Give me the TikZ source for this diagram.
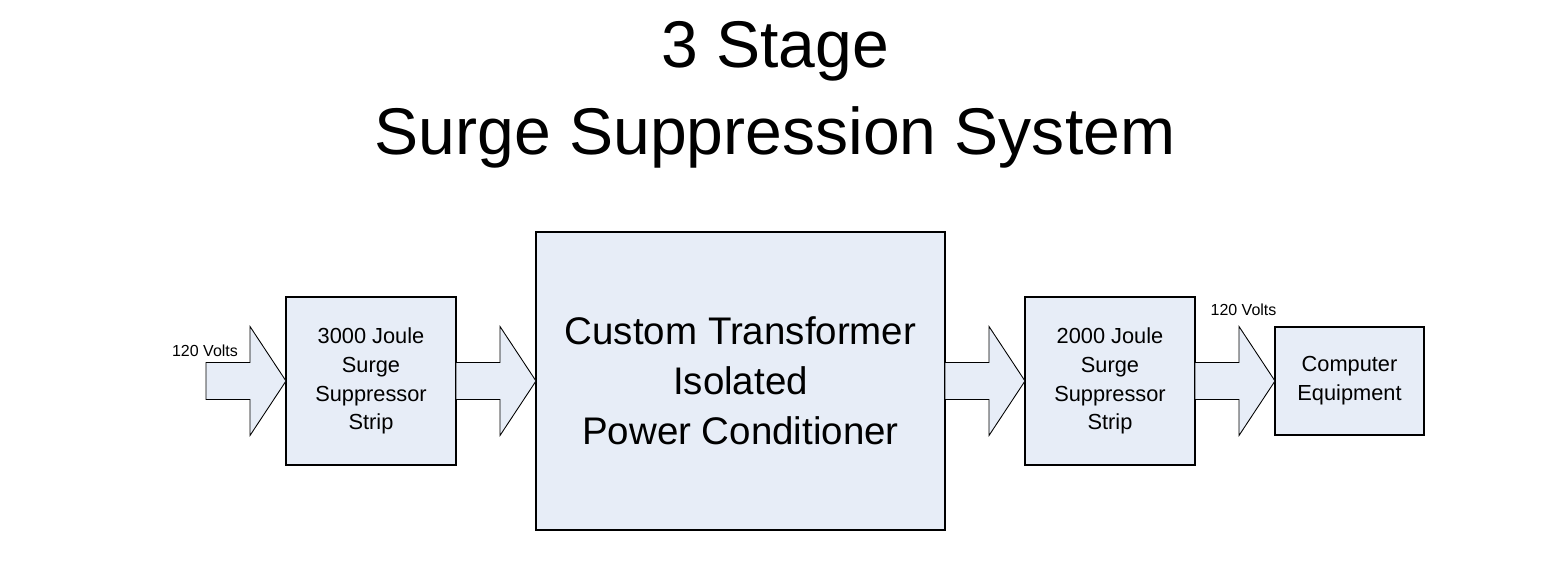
\documentclass[tikz,border=0pt]{standalone}
\usepackage{fontspec}
\setmainfont{Liberation Sans}
\usepackage{tikz}
\usetikzlibrary{positioning, calc}
\definecolor{boxfill}{RGB}{231,237,247}
\tikzset{
    node distance=1.6cm, % Gap between two blocks
    block/.style={ % Sets the properties for each block
        draw,
        line width=0.6pt,
        fill=boxfill,
        align=center,
        inner sep=0pt,
        outer sep=0pt
    },
    small/.style={ % Small block text
        font=\fontsize{12.4}{16.4}\selectfont
    },
    fatarrow/.style={ % Block arrows between the blocks
        draw,
        line width=0.5pt,
        fill=boxfill
    }
}
% Fat arrow from a point (#1) to a tip (#2)
\newcommand{\fatarrow}[2]{%
    \draw[fatarrow] ($(#1)+(0,0.37)$) -- ($(#2)+(-0.72,0.37)$)
        -- ($(#2)+(-0.72,1.09)$) -- (#2) -- ($(#2)+(-0.72,-1.09)$)
        -- ($(#2)+(-0.72,-0.37)$) -- ($(#1)+(0,-0.37)$) -- cycle;}

\begin{document}
\begin{tikzpicture}
    \useasboundingbox[fill=white] (0,0) rectangle (31.08,11.66);
    % Title
    \node[anchor=base, font=\fontsize{37.6}{45}\selectfont] (title1) at (15.5,10.3) {3 Stage};
    \node[anchor=base, font=\fontsize{37.6}{45}\selectfont] (title2) at (15.5,8.56) {Surge Suppression System};
    % Blocks
    \node[block, small, minimum width=3.4cm, minimum height=3.36cm] (s1) at (7.42,4.04)
        {3000 Joule\\Surge\\Suppressor\\Strip};
    \node[block, minimum width=8.18cm, minimum height=5.96cm, right=of s1,
          font=\fontsize{21.9}{28.4}\selectfont] (pc)
        {Custom Transformer\\Isolated\\Power Conditioner};
    \node[block, small, minimum width=3.4cm, minimum height=3.36cm, right=of pc] (s2)
        {2000 Joule\\Surge\\Suppressor\\Strip};
    \node[block, small, minimum width=2.98cm, minimum height=2.16cm, right=of s2] (ce)
        {Computer\\Equipment};
    % Input point and labels
    \coordinate (in) at (4.12,4.04);
    \node[anchor=base, font=\fontsize{9.1}{11}\selectfont] (vin) at (4.1,4.52) {120 Volts};
    \node[anchor=base, font=\fontsize{9.1}{11}\selectfont] (vout) at (24.87,5.34) {120 Volts};
    % Arrows
    \fatarrow{in}{s1.west}
    \fatarrow{s1.east}{pc.west}
    \fatarrow{pc.east}{s2.west}
    \fatarrow{s2.east}{ce.west}
\end{tikzpicture}
\end{document}
